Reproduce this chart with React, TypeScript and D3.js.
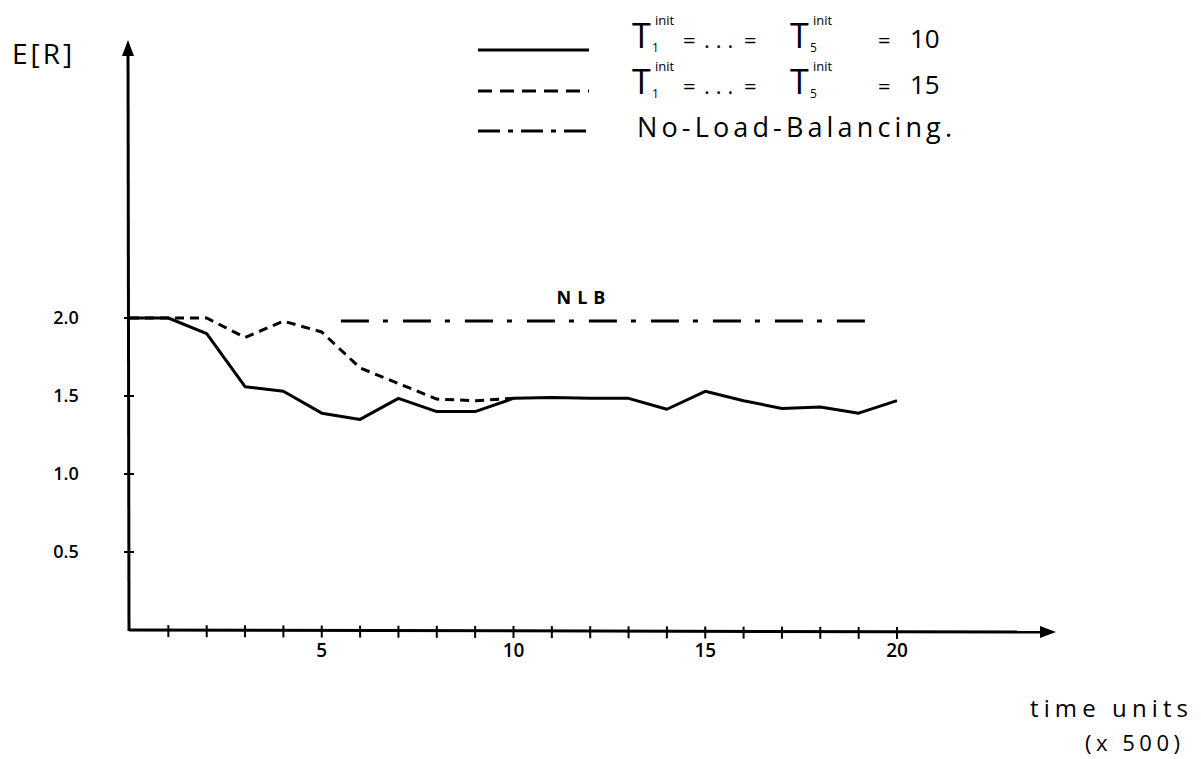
import React, { useEffect, useRef } from "react";
import * as d3 from "d3";

// ---- data ----
const timeSteps = [0, 1, 2, 3, 4, 5, 6, 7, 8, 9, 10, 11, 12, 13, 14, 15, 16, 17, 18, 19, 20];
const seriesInit10 = [2.0, 2.0, 1.9, 1.56, 1.53, 1.39, 1.35, 1.485, 1.4, 1.4, 1.485, 1.49, 1.485, 1.485, 1.415, 1.53, 1.47, 1.42, 1.43, 1.39, 1.47];
const timeStepsInit15 = [0, 1, 2, 3, 4, 5, 6, 7, 8, 9, 10];
const seriesInit15 = [2.0, 2.0, 2.0, 1.875, 1.98, 1.91, 1.68, 1.58, 1.48, 1.47, 1.485];
const nlbTimes = [5.5, 19.2];
const nlbValues = [1.98, 1.98];
const yTickValues = [0.5, 1.0, 1.5, 2.0];
const yTickLabels = ["0.5", "1.0", "1.5", "2.0"];
const xMinorTicks = d3.range(1, 21);
const xLabelTicks = [5, 10, 15, 20];
const legendValues = ["10", "15"];

const FONT = "'Open Sans', 'DejaVu Sans', sans-serif";

export default function App() {
  const ref = useRef<SVGSVGElement | null>(null);

  useEffect(() => {
    document.body.style.margin = "0";
    const svg = d3.select(ref.current);
    svg.selectAll("*").remove();

    const x = d3.scaleLinear().domain([0, 20]).range([130, 897]);
    const y = d3.scaleLinear().domain([0, 2]).range([630, 318]);

    // axes
    const axisG = svg.append("g").attr("stroke", "#000").attr("stroke-width", 3).attr("fill", "none");
    axisG.append("line").attr("x1", 129).attr("y1", 630).attr("x2", 1045).attr("y2", 632);
    axisG.append("line").attr("x1", 129).attr("y1", 631).attr("x2", 128).attr("y2", 50);
    svg.append("path").attr("d", "M1056,632 L1040,626 L1040,638 Z").attr("fill", "#000");
    svg.append("path").attr("d", "M128,40 L122,56 L134,56 Z").attr("fill", "#000");

    // x ticks
    svg.append("g").selectAll("line").data(xMinorTicks).join("line")
      .attr("x1", (d) => x(d)).attr("x2", (d) => x(d))
      .attr("y1", (d) => 625 + d * 0.1).attr("y2", (d) => 637 + d * 0.1)
      .attr("stroke", "#000").attr("stroke-width", 2);
    svg.append("g").selectAll("text").data(xLabelTicks).join("text")
      .attr("x", (d) => x(d)).attr("y", 657)
      .attr("text-anchor", "middle").attr("font-family", FONT).attr("font-size", 19).attr("font-weight", 600)
      .text((d) => String(d));

    // y ticks
    svg.append("g").selectAll("line").data(yTickValues).join("line")
      .attr("x1", 124).attr("x2", 134)
      .attr("y1", (d) => y(d)).attr("y2", (d) => y(d))
      .attr("stroke", "#000").attr("stroke-width", 2);
    svg.append("g").selectAll("text").data(yTickValues).join("text")
      .attr("x", 66).attr("y", (d) => y(d) + 6)
      .attr("text-anchor", "middle").attr("font-family", FONT).attr("font-size", 18).attr("font-weight", 600)
      .text((d, i) => yTickLabels[i]);

    const line = d3.line<[number, number]>().x((d) => x(d[0])).y((d) => y(d[1]));

    // NLB
    svg.append("path")
      .attr("d", line(nlbTimes.map((t, i) => [t, nlbValues[i]] as [number, number])))
      .attr("fill", "none").attr("stroke", "#000").attr("stroke-width", 3)
      .attr("stroke-dasharray", "28 14 5 15");

    // T=15 dashed
    svg.append("path")
      .attr("d", line(timeStepsInit15.map((t, i) => [t, seriesInit15[i]] as [number, number])))
      .attr("fill", "none").attr("stroke", "#000").attr("stroke-width", 3)
      .attr("stroke-dasharray", "9 6").attr("stroke-linejoin", "round");

    // T=10 solid
    svg.append("path")
      .attr("d", line(timeSteps.map((t, i) => [t, seriesInit10[i]] as [number, number])))
      .attr("fill", "none").attr("stroke", "#000").attr("stroke-width", 3)
      .attr("stroke-linejoin", "round");

    // NLB label
    svg.append("text").attr("x", 584).attr("y", 304).attr("text-anchor", "middle")
      .attr("font-family", FONT).attr("font-size", 18).attr("font-weight", 700).attr("letter-spacing", 6)
      .text("NLB");

    // axis titles
    svg.append("text").attr("x", 12).attr("y", 64).attr("font-family", FONT).attr("font-size", 28)
      .attr("letter-spacing", 3).text("E[R]");
    svg.append("text").attr("x", 1030).attr("y", 717).attr("font-family", FONT).attr("font-size", 24)
      .attr("textLength", 158).attr("lengthAdjust", "spacing").text("time units");
    svg.append("text").attr("x", 1085).attr("y", 751).attr("font-family", FONT).attr("font-size", 22)
      .attr("textLength", 95).attr("lengthAdjust", "spacing").text("(x 500)");

    // legend
    const lg = svg.append("g");
    const legendRows = [
      { y: 50, dash: null as string | null },
      { y: 91, dash: "14 8" },
      { y: 131, dash: "22 8 5 8" },
    ];
    legendRows.forEach((r) => {
      lg.append("line").attr("x1", 478).attr("x2", 589).attr("y1", r.y).attr("y2", r.y)
        .attr("stroke", "#000").attr("stroke-width", 3)
        .attr("stroke-dasharray", r.dash ?? null);
    });
    const eqRow = (base: number, value: string) => {
      const t = (xx: number, yy: number, s: number, txt: string) =>
        lg.append("text").attr("x", xx).attr("y", yy).attr("font-family", FONT).attr("font-size", s).text(txt);
      t(632, base, 34, "T");
      t(655, base - 23, 13, "init");
      t(652, base + 4, 12, "1");
      t(683, base, 22, "=");
      t(704, base, 22, "...").attr("letter-spacing", 6);
      t(744, base, 22, "=");
      t(790, base, 34, "T");
      t(813, base - 23, 13, "init");
      t(810, base + 4, 12, "5");
      t(878, base, 22, "=");
      t(910, base, 26, value);
    };
    eqRow(48, legendValues[0]);
    eqRow(94, legendValues[1]);
    lg.append("text").attr("x", 637).attr("y", 137).attr("font-family", FONT).attr("font-size", 27)
      .attr("textLength", 315).attr("lengthAdjust", "spacing").text("No-Load-Balancing.");
  }, []);

  return (
    <svg ref={ref} width={1201} height={759} style={{ position: "absolute", left: 0, top: 0, background: "#fff" }} />
  );
}
